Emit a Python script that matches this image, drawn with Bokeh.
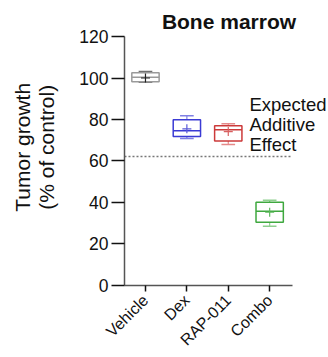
import math
from bokeh.plotting import figure
from bokeh.models import Range1d, FixedTicker, Label
from bokeh.embed import file_html
from bokeh.resources import INLINE

categories = ["Vehicle", "Dex", "RAP-011", "Combo"]
q1 = [98.2, 71.8, 69.6, 30.5]
q3 = [102.5, 79.9, 77.0, 40.1]
median = [100.4, 74.6, 75.0, 35.8]
mean = [100.0, 75.5, 74.2, 35.3]
whisk_lo = [98.0, 70.8, 68.0, 28.6]
whisk_hi = [103.1, 81.8, 78.0, 41.1]
expected_additive = 62.2
y_ticks = [0, 20, 40, 60, 80, 100, 120]

box_colors = ["#9a9a9a", "#3b3bd4", "#cc3a3a", "#3fa83f"]
whisk_colors = ["#707070", "#8080e4", "#e58a8a", "#8fd08f"]
mark_colors = ["#222222", "#5a5ad8", "#d86060", "#5cb85c"]

FONT = "Liberation Sans"

X0, X1 = -0.507, 3.551   # drawn extent of the x axis
Y0, Y1 = 0, 120          # drawn extent of the y axis

p = figure(width=328, height=357, output_backend="svg", toolbar_location=None,
           x_range=Range1d(-3.502, 4.421), y_range=Range1d(-34.7, 137.35),
           min_border_left=0, min_border_right=0, min_border_top=0,
           min_border_bottom=0)
p.outline_line_color = None
p.xgrid.visible = False
p.ygrid.visible = False
p.background_fill_color = "white"
p.border_fill_color = "white"

xs = list(range(len(categories)))
bw = 0.66
cw = 0.33

for i in xs:
    c = box_colors[i]
    wc = whisk_colors[i]
    p.segment(x0=[i, i], y0=[q3[i], q1[i]], x1=[i, i], y1=[whisk_hi[i], whisk_lo[i]],
              line_color=wc, line_width=1.2)
    p.segment(x0=[i - cw / 2, i - cw / 2], y0=[whisk_hi[i], whisk_lo[i]],
              x1=[i + cw / 2, i + cw / 2], y1=[whisk_hi[i], whisk_lo[i]],
              line_color=wc, line_width=1.5)
    p.quad(left=[i - bw / 2], right=[i + bw / 2], bottom=[q1[i]], top=[q3[i]],
           fill_color=None, line_color=c, line_width=1.5)
    p.segment(x0=[i - bw / 2], y0=[median[i]], x1=[i + bw / 2], y1=[median[i]],
              line_color=c, line_width=1.5)
    p.scatter(x=[i], y=[mean[i]], marker="cross", size=9, line_color=mark_colors[i],
              line_width=1.2)

p.segment(x0=[X0], y0=[expected_additive], x1=[X1], y1=[expected_additive],
          line_color="#777777", line_dash="2 2", line_width=1.5)

p.add_layout(Label(x=2.51, y=92.4, text="Expected\nAdditive\nEffect", text_baseline="top",
                   text_align="left", text_font=FONT, text_font_size="18.5px",
                   text_color="#111111", text_line_height=0.96))
p.add_layout(Label(x=2.017, y=127.4, text="Bone marrow", text_baseline="alphabetic",
                   text_align="center", text_font=FONT, text_font_size="21px",
                   text_font_style="bold", text_color="#111111"))
p.add_layout(Label(x=-2.68, y=66.6, text="Tumor growth\n(% of control)", angle=math.pi / 2,
                   text_baseline="middle", text_align="center", text_font=FONT,
                   text_font_size="21px", text_color="#111111", text_line_height=1.06))

ya = p.yaxis[0]
ya.fixed_location = X0
ya.ticker = FixedTicker(ticks=y_ticks)
ya.bounds = (Y0, Y1)
ya.minor_tick_line_color = None
ya.major_tick_out = 13
ya.major_tick_in = 0
ya.major_tick_line_width = 1.5
ya.major_tick_line_color = "#111111"
ya.axis_line_color = "#555555"
ya.axis_line_width = 1.5
ya.major_label_text_font = FONT
ya.major_label_text_font_size = "17.5px"
ya.major_label_text_color = "#111111"
ya.major_label_standoff = 3

xa = p.xaxis[0]
xa.fixed_location = Y0
xa.ticker = FixedTicker(ticks=xs)
xa.bounds = (X0, X1)
xa.major_label_overrides = {i: c for i, c in enumerate(categories)}
xa.minor_tick_line_color = None
xa.major_tick_out = 6
xa.major_tick_in = 0
xa.major_tick_line_width = 1.5
xa.major_tick_line_color = "#111111"
xa.axis_line_color = "#555555"
xa.axis_line_width = 1.5
xa.major_label_orientation = math.pi / 4
xa.major_label_text_font = FONT
xa.major_label_text_font_size = "16px"
xa.major_label_text_color = "#111111"
xa.major_label_standoff = 6

open("out.html", "w").write(file_html(p, INLINE))
